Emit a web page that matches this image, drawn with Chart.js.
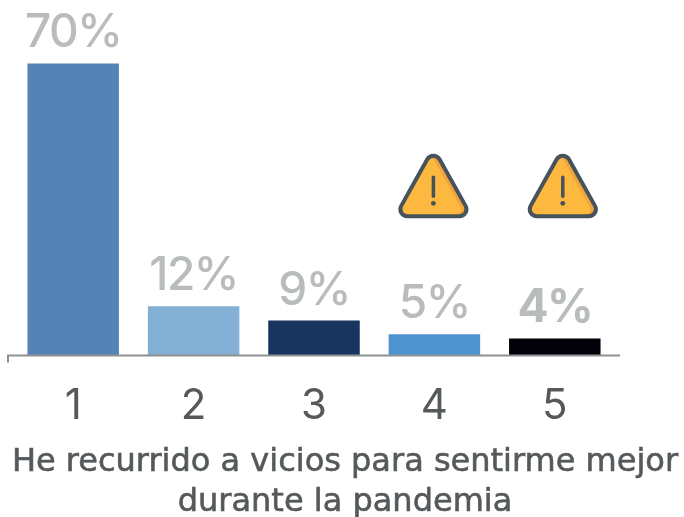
<!DOCTYPE html>
<html><head><meta charset="utf-8">
<script src="https://cdn.jsdelivr.net/npm/chart.js@4"></script>
<style>html,body{margin:0;padding:0;background:#fff}canvas{display:block}</style>
</head><body><canvas id="c" width="684" height="517"></canvas>
<script>
const categories = ["1","2","3","4","5"];
const barValues = [70, 11.8, 8.4, 5.1, 4.1];
const valueLabels = ["70%","12%","9%","5%","4%"];
const barColors = ["#5683b5","#85b0d6","#17355f","#4c93d0","#020208"];
const boldLabels = [false,false,false,false,true];
const warningCategories = [3,4];
const warningOffsets = [-1,8];
const warningLevel = 40.8;
const titleLines = ["He recurrido a vicios para sentirme mejor","durante la pandemia"];

const valueLabelPlugin = {
  id:'valueLabels',
  afterDatasetsDraw(chart){
    const {ctx} = chart;
    chart.getDatasetMeta(0).data.forEach((bar,i)=>{
      ctx.save();
      ctx.letterSpacing='-1.5px';
      ctx.fillStyle = '#b9bcbc';
      ctx.font = (boldLabels[i]?'700':'500')+' 46px Inter';
      ctx.textAlign='center';
      ctx.textBaseline='alphabetic';
      ctx.fillText(valueLabels[i], bar.x, bar.y-16);
      ctx.letterSpacing='0px';
      ctx.restore();
    });
  }
};
const axisPlugin = {
  id:'axisLine',
  afterDatasetsDraw(chart){
    const {ctx,chartArea:a} = chart;
    const y = chart.scales.y.getPixelForValue(0);
    ctx.save();
    ctx.strokeStyle='#8e9192';
    ctx.lineWidth=2;
    ctx.beginPath();
    ctx.moveTo(a.left-5,y+7);
    ctx.lineTo(a.left-5,y);
    ctx.lineTo(a.right+5,y);
    ctx.stroke();
    ctx.restore();
  }
};
const titlePlugin = {
  id:'bottomTitle',
  afterDraw(chart){
    const {ctx} = chart;
    ctx.save();
    ctx.fillStyle='#55595b';
    ctx.font='500 32px "DejaVu Sans"';
    ctx.textAlign='center';
    ctx.textBaseline='alphabetic';
    ctx.strokeStyle='#55595b';
    ctx.lineWidth=0.6;
    titleLines.forEach((line,i)=>{
      ctx.fillText(line,chart.width/2+3,471+i*40);
      ctx.strokeText(line,chart.width/2+3,471+i*40);
    });
    ctx.restore();
  }
};
function tri(ctx,cx,top,w,h,r){
  const p=[[cx,top],[cx+w/2,top+h],[cx-w/2,top+h]];
  ctx.beginPath();
  ctx.moveTo((p[0][0]+p[2][0])/2,(p[0][1]+p[2][1])/2);
  ctx.arcTo(p[0][0],p[0][1],p[1][0],p[1][1],r);
  ctx.arcTo(p[1][0],p[1][1],p[2][0],p[2][1],r);
  ctx.arcTo(p[2][0],p[2][1],p[0][0],p[0][1],r);
  ctx.closePath();
}
const warningPlugin = {
  id:'warnings',
  afterDatasetsDraw(chart){
    const {ctx} = chart;
    const cy = chart.scales.y.getPixelForValue(warningLevel);
    warningCategories.forEach((c,i)=>{
      const cx = chart.scales.x.getPixelForValue(c)+warningOffsets[i];
      const top = cy-37, w=76, h=68;
      ctx.save();
      tri(ctx,cx,top,w,h,7);
      ctx.fillStyle='#fdb840';
      ctx.fill();
      ctx.save();
      ctx.clip();
      ctx.translate(-4,0);
      tri(ctx,cx,top,w,h,7);
      ctx.strokeStyle='#f3a33c';
      ctx.lineWidth=3;
      ctx.stroke();
      ctx.restore();
      tri(ctx,cx,top,w,h,7);
      ctx.strokeStyle='#46535b';
      ctx.lineWidth=4;
      ctx.lineJoin='round';
      ctx.stroke();
      ctx.lineWidth=3.5;
      ctx.lineCap='round';
      ctx.beginPath();
      ctx.moveTo(cx,cy-8);
      ctx.lineTo(cx,cy+11);
      ctx.stroke();
      ctx.fillStyle='#46535b';
      ctx.beginPath();
      ctx.arc(cx,cy+18,2.4,0,Math.PI*2);
      ctx.fill();
      ctx.restore();
    });
  }
};
new Chart(document.getElementById('c'),{
  type:'bar',
  data:{labels:categories,datasets:[{data:barValues,backgroundColor:barColors,borderWidth:0,categoryPercentage:0.76,barPercentage:1}]},
  plugins:[valueLabelPlugin,axisPlugin,warningPlugin,titlePlugin],
  options:{
    responsive:false,
    animation:false,
    layout:{padding:{left:13,right:69,top:5,bottom:67}},
    plugins:{legend:{display:false},tooltip:{enabled:false}},
    scales:{
      x:{grid:{display:false},border:{display:false},
        ticks:{color:'#55595b',font:{family:'Inter',size:42},padding:18,maxRotation:0}},
      y:{display:false,min:0,max:84}
    }
  }
});
</script>
</body></html>
